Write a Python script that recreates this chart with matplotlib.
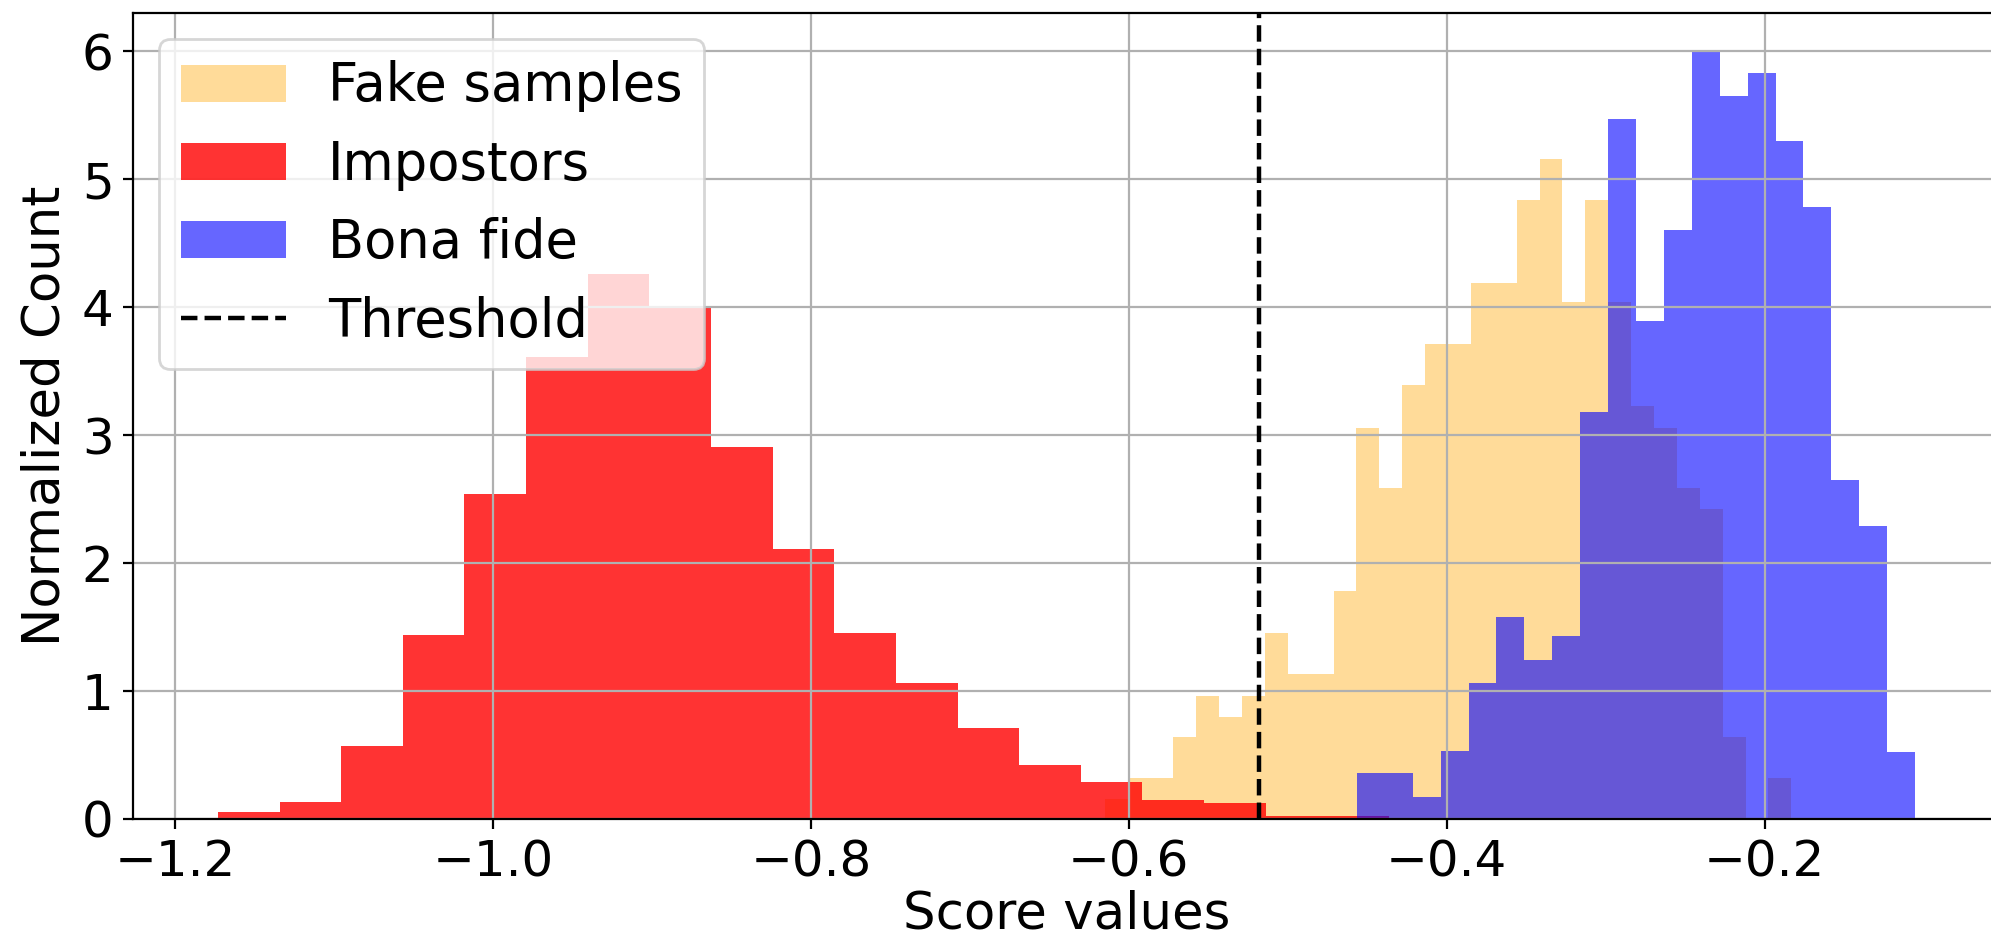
import numpy as np
import matplotlib
matplotlib.use("Agg")
import matplotlib.pyplot as plt
from matplotlib.patches import Patch
from matplotlib.lines import Line2D

# ---- data ----
fake_range = (-0.6152, -0.1832)
fake_heights = [0.16, 0.32, 0.32, 0.64, 0.96, 0.80, 0.96, 1.45, 1.13, 1.13,
                1.78, 3.06, 2.59, 3.39, 3.71, 3.71, 4.19, 4.19, 4.84, 5.16,
                4.04, 4.84, 4.04, 3.23, 3.06, 2.59, 2.42, 0.64, 0.0, 0.32]

imp_range = (-1.1731, -0.4363)
imp_heights = [0.054, 0.135, 0.57, 1.44, 2.54, 3.61, 4.26, 4.00, 2.91, 2.11,
               1.45, 1.065, 0.71, 0.42, 0.29, 0.15, 0.125, 0.025, 0.02]

bona_range = (-0.4565, -0.1053)
bona_heights = [0.357, 0.357, 0.17, 0.535, 1.066, 1.58, 1.24, 1.43, 3.18, 5.47,
                3.89, 4.60, 6.00, 5.65, 5.83, 5.30, 4.78, 2.65, 2.29, 0.527]

threshold = -0.518

labels = ["Fake samples", "Impostors", "Bona fide", "Threshold"]

# ---- plot ----
W, H, DPI = 1991, 939, 200
fig = plt.figure(figsize=(W / DPI, H / DPI), dpi=DPI)
ax = fig.add_axes([133 / W, 120 / H, (2000 - 133) / W, (926 - 120) / H])

def draw(rng, heights, color, alpha):
    edges = np.linspace(rng[0], rng[1], len(heights) + 1)
    centers = 0.5 * (edges[:-1] + edges[1:])
    ax.hist(centers, bins=edges, weights=heights, color=color, alpha=alpha)

draw(fake_range, fake_heights, "orange", 0.4)
draw(imp_range, imp_heights, "red", 0.8)
draw(bona_range, bona_heights, "blue", 0.6)
ax.axvline(threshold, color="black", linestyle="--", linewidth=1.6)

ax.grid(True)
ax.set_xticks([-1.2, -1.0, -0.8, -0.6, -0.4, -0.2])
ax.set_yticks(range(0, 7))
ax.tick_params(labelsize=18)
ax.set_xlabel("Score values", fontsize=18.5, labelpad=1)
ax.set_ylabel("Normalized Count", fontsize=18.5, labelpad=4)

handles = [Patch(facecolor="orange", alpha=0.4),
           Patch(facecolor="red", alpha=0.8),
           Patch(facecolor="blue", alpha=0.6),
           Line2D([], [], color="black", linestyle="--", linewidth=1.6)]
ax.legend(handles, labels, loc="upper left", fontsize=19)

fig.savefig("out.png", dpi=DPI)
